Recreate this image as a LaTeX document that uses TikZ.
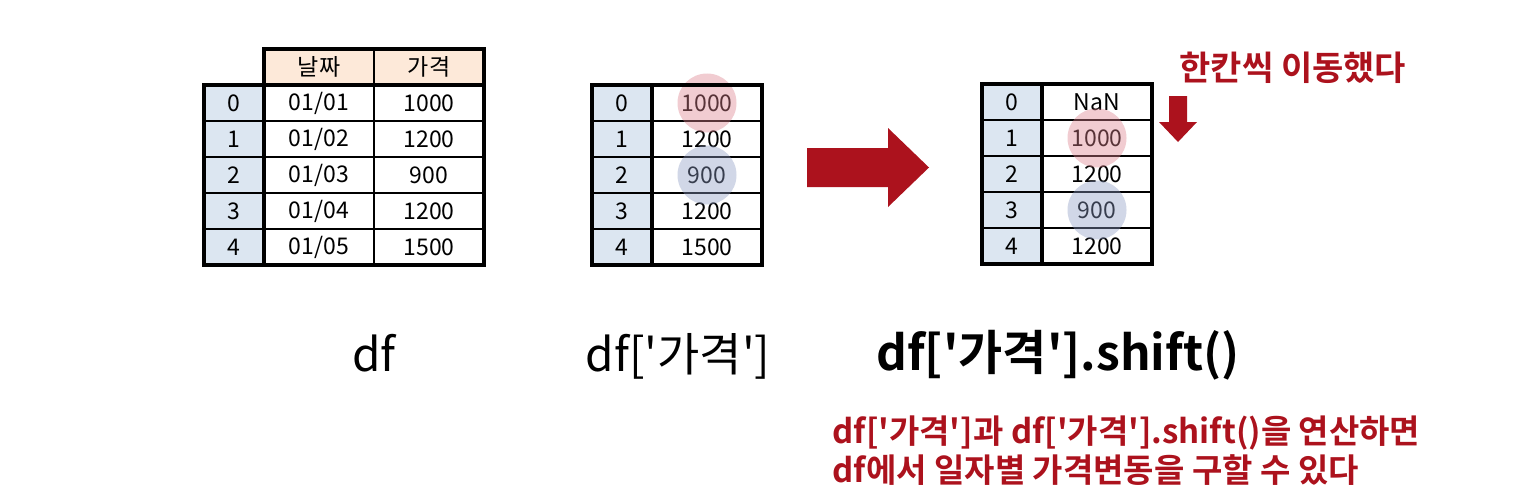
\documentclass[tikz,border=0pt]{standalone}
\usepackage{fontspec}
\newfontfamily\kr{Noto Sans CJK KR}[BoldFont={Noto Sans CJK KR Bold}]
\definecolor{idxc}{RGB}{220,230,241}
\definecolor{hdrc}{RGB}{253,233,217}
\definecolor{redc}{RGB}{172,18,29}
\definecolor{pinkc}{RGB}{220,128,140}
\definecolor{bluec}{RGB}{140,155,195}
\begin{document}
\begin{tikzpicture}[x=1pt,y=-1pt,
  cell/.style={draw, line width=2pt, inner sep=0pt, outer sep=0pt, minimum height=36pt, anchor=north west, font=\kr\fontsize{23}{23}\selectfont},
  idx/.style={cell, fill=idxc, minimum width=60pt},
  val/.style={cell, fill=white, minimum width=110pt},
  hdr/.style={cell, fill=hdrc, minimum width=110pt},
  frame/.style={line width=4pt, line join=miter},
  sep/.style={line width=3.2pt},
  mark1/.style={circle, fill=pinkc, fill opacity=0.4, minimum size=59pt, inner sep=0pt},
  mark2/.style={circle, fill=bluec, fill opacity=0.4, minimum size=59pt, inner sep=0pt},
  lbl/.style={anchor=base, font=\kr\fontsize{46}{46}\selectfont},
  note/.style={anchor=base west, text=redc, font=\kr\bfseries\fontsize{33}{33}\selectfont},
  bigarrow/.style={fill=redc}
]
\useasboundingbox (0,0) rectangle (1523,503);

% ---------- table 1: df ----------
\node[hdr] (t1hd) at (264,49) {날짜};
\node[hdr] (t1hp) at (374,49) {가격};
\node[idx] (t1i0) at (204,85) {0};
\node[idx] (t1i1) at (204,121) {1};
\node[idx] (t1i2) at (204,157) {2};
\node[idx] (t1i3) at (204,193) {3};
\node[idx] (t1i4) at (204,229) {4};
\node[val] (t1d0) at (264,85) {01/01};
\node[val] (t1d1) at (264,121) {01/02};
\node[val] (t1d2) at (264,157) {01/03};
\node[val] (t1d3) at (264,193) {01/04};
\node[val] (t1d4) at (264,229) {01/05};
\node[val] (t1p0) at (374,85) {1000};
\node[val] (t1p1) at (374,121) {1200};
\node[val] (t1p2) at (374,157) {900};
\node[val] (t1p3) at (374,193) {1200};
\node[val] (t1p4) at (374,229) {1500};
\draw[sep] (t1d0.north west) -- (t1d4.south west);
\draw[sep] (t1hd.south west) -- (t1hp.south east);
\draw[frame] (t1i0.north west) -- (t1hd.south west) -- (t1hd.north west) -- (t1hp.north east)
  -- (t1p4.south east) -- (t1i4.south west) -- cycle;

% ---------- table 2: df['가격'] ----------
\foreach \r/\v [count=\k from 0] in {0/1000,1/1200,2/900,3/1200,4/1500}{
  \node[idx] (t2i\k) at (592,85+36*\k) {\r};
  \node[val] (t2p\k) at (652,85+36*\k) {\v};
}
\node[mark1] (m1) at (t2p0.center) {};
\node[mark2] (m2) at (t2p2.center) {};
\draw[sep] (t2p0.north west) -- (t2p4.south west);
\draw[frame] (t2i0.north west) -- (t2p0.north east) -- (t2p4.south east) -- (t2i4.south west) -- cycle;

% ---------- table 3: df['가격'].shift() ----------
\foreach \r/\v [count=\k from 0] in {0/NaN,1/1000,2/1200,3/900,4/1200}{
  \node[idx] (t3i\k) at (982,84+36*\k) {\r};
  \node[val] (t3p\k) at (1042,84+36*\k) {\v};
}
\node[mark1] (m3) at (t3p1.center) {};
\node[mark2] (m4) at (t3p3.center) {};
\draw[sep] (t3p0.north west) -- (t3p4.south west);
\draw[frame] (t3i0.north west) -- (t3p0.north east) -- (t3p4.south east) -- (t3i4.south west) -- cycle;

% ---------- arrows ----------
\fill[bigarrow] (807,148) -- (888,148) -- (888,128) -- (929,167.5) -- (888,207) -- (888,187) -- (807,187) -- cycle;
\fill[bigarrow] (1169,96) -- (1187,96) -- (1187,122) -- (1197,122) -- (1178,142) -- (1159,122) -- (1169,122) -- cycle;

% ---------- labels ----------
\node[lbl] (l1) at (374,371) {df};
\node[lbl] (l2) at (678,371) {df['가격']};
\node[lbl, font=\kr\bfseries\fontsize{48}{48}\selectfont] (l3) at (1058,370) {df['가격'].shift()};

\node[note, font=\kr\bfseries\fontsize{34}{34}\selectfont] (n0) at (1176,81) {한칸씩 이동했다};
\node[note] (n1) at (829,443) {df['가격']과 df['가격'].shift()을 연산하면};
\node[note] (n2) at (829,482) {df에서 일자별 가격변동을 구할 수 있다};
\end{tikzpicture}
\end{document}
